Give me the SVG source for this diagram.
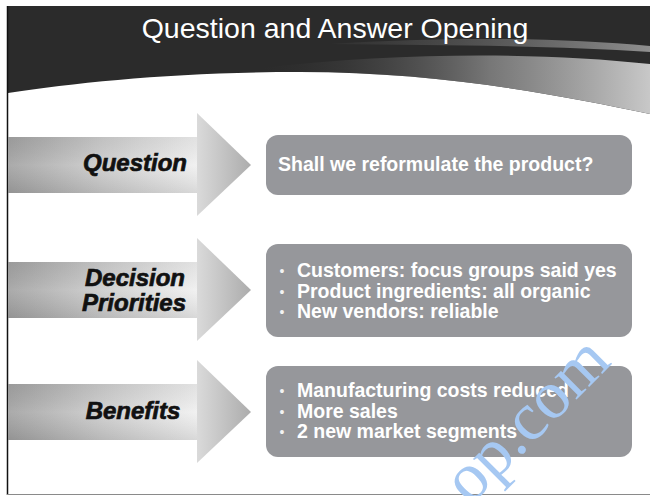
<svg xmlns="http://www.w3.org/2000/svg" width="650" height="496" viewBox="0 0 650 496">
  <defs>
    <linearGradient id="bodyGrad" x1="8" y1="0" x2="197" y2="0" gradientUnits="userSpaceOnUse">
      <stop offset="0" stop-color="#a3a3a3"/>
      <stop offset="0.5" stop-color="#cdcdcd"/>
      <stop offset="1" stop-color="#f0f0f0"/>
    </linearGradient>
    <linearGradient id="bodyShade" x1="0" y1="0" x2="0" y2="1">
      <stop offset="0" stop-color="#000" stop-opacity="0.06"/>
      <stop offset="0.5" stop-color="#fff" stop-opacity="0.08"/>
      <stop offset="1" stop-color="#000" stop-opacity="0.10"/>
    </linearGradient>
    <linearGradient id="headGrad" x1="197" y1="0" x2="251" y2="0" gradientUnits="userSpaceOnUse">
      <stop offset="0" stop-color="#dadada"/>
      <stop offset="1" stop-color="#acacac"/>
    </linearGradient>
    <linearGradient id="swoosh" x1="250" y1="0" x2="650" y2="0" gradientUnits="userSpaceOnUse">
      <stop offset="0" stop-color="#2b2b2b" stop-opacity="0"/>
      <stop offset="0.6" stop-color="#8a8a8a" stop-opacity="0.8"/>
      <stop offset="1" stop-color="#c8c8c8"/>
    </linearGradient>
    <linearGradient id="streak" x1="300" y1="0" x2="650" y2="0" gradientUnits="userSpaceOnUse">
      <stop offset="0" stop-color="#666" stop-opacity="0"/>
      <stop offset="1" stop-color="#9a9a9a" stop-opacity="0.9"/>
    </linearGradient>
    <g id="arrow">
      <rect x="8" y="-28" width="189" height="56" fill="url(#bodyGrad)"/>
      <rect x="8" y="-28" width="189" height="56" fill="url(#bodyShade)"/>
      <path d="M197,-52 L251,0 L197,51 Z" fill="url(#headGrad)"/>
    </g>
  </defs>
  <style>
    .box { fill: #96979b; }
    .lbl { font-family: "Liberation Sans", Arial, sans-serif; font-weight: bold; font-style: italic; font-size: 24px; fill: #111; stroke: #111; stroke-width: 0.7; text-anchor: middle; }
    .txt { font-family: "Liberation Sans", Arial, sans-serif; font-weight: bold; font-size: 19.5px; fill: #ffffff; }
    .bul { font-family: "Liberation Sans", Arial, sans-serif; font-size: 14px; fill: #f2f2f2; text-anchor: middle; }
    .title { font-family: "Liberation Sans", Arial, sans-serif; font-size: 28.5px; fill: #ffffff; text-anchor: middle; }
  </style>

  <rect x="0" y="0" width="650" height="496" fill="#ffffff"/>

  <g id="header">
    <path d="M8,6 H650 V114 C560,95 440,72 300,72 C180,72 80,82 8,93 Z" fill="#2b2b2b"/>
    <path d="M260,68 C400,52 540,52 650,64 V114 C560,95 440,72 300,72 C285,72 272,71 260,68 Z" fill="url(#swoosh)"/>
    <path d="M330,44 C450,36 560,38 650,46 V52 C560,46 450,45 330,44 Z" fill="url(#streak)"/>
    <text class="title" x="335" y="38">Question and Answer Opening</text>
  </g>

  <g id="border">
    <line x1="7.5" y1="6" x2="7.5" y2="495" stroke="#111" stroke-width="1.5"/>
    <line x1="7" y1="494.5" x2="650" y2="494.5" stroke="#8a8a8a" stroke-width="1.2"/>
  </g>

  <g id="arrow-question">
    <use href="#arrow" transform="translate(0,165)"/>
    <text class="lbl" x="135" y="171">Question</text>
  </g>
  <g id="arrow-decision">
    <use href="#arrow" transform="translate(0,290)"/>
    <text class="lbl" x="135" y="286">Decision</text>
    <text class="lbl" x="134" y="311">Priorities</text>
  </g>
  <g id="arrow-benefits">
    <use href="#arrow" transform="translate(0,412)"/>
    <text class="lbl" x="133" y="419">Benefits</text>
  </g>

  <g id="box-question">
    <rect class="box" x="266" y="135" width="366" height="60" rx="12"/>
    <text class="txt" x="278" y="171">Shall we reformulate the product?</text>
  </g>
  <g id="box-decision">
    <rect class="box" x="266" y="244" width="366" height="93" rx="12"/>
    <text class="bul" x="282" y="276">•</text>
    <text class="txt" x="297" y="277">Customers: focus groups said yes</text>
    <text class="bul" x="282" y="297">•</text>
    <text class="txt" x="297" y="298">Product ingredients: all organic</text>
    <text class="bul" x="282" y="317">•</text>
    <text class="txt" x="297" y="318">New vendors: reliable</text>
  </g>
  <g id="box-benefits">
    <rect class="box" x="266" y="366" width="366" height="91" rx="12"/>
    <text class="bul" x="282" y="396">•</text>
    <text class="txt" x="297" y="397">Manufacturing costs reduced</text>
    <text class="bul" x="282" y="417">•</text>
    <text class="txt" x="297" y="418">More sales</text>
    <text class="bul" x="282" y="437">•</text>
    <text class="txt" x="297" y="438">2 new market segments</text>
  </g>

  <g id="connectors"></g>

  <text x="470" y="506" transform="rotate(-45 470 506)" font-family="Liberation Serif, serif" font-size="68" fill="#a6c8f2">op.com</text>
</svg>
